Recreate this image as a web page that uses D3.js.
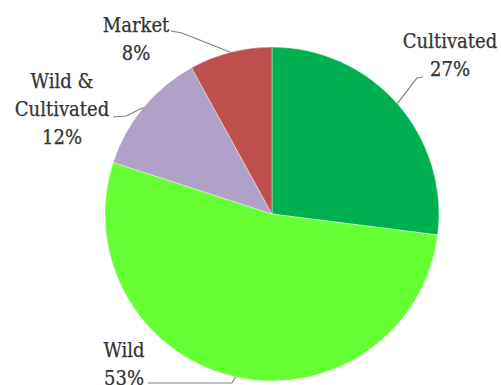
<!DOCTYPE html>
<html>
<head>
<meta charset="utf-8">
<script src="https://cdn.jsdelivr.net/npm/d3@7"></script>
<style>
  html, body { margin: 0; padding: 0; background: #fff; }
  svg { display: block; }
</style>
</head>
<body>
<svg id="chart" width="501" height="385"></svg>
<script>
// Share of sources, drawn clockwise from 12 o'clock
const categories = ["Cultivated", "Wild", "Wild & Cultivated", "Market"];
const shares = [27, 53, 12, 8];
const colors = ["#00b050", "#66ff33", "#b1a0c7", "#c0504d"];
// Label text lines for each slice
const labelLines = [
  ["Cultivated", "27%"],
  ["Wild", "53%"],
  ["Wild &", "Cultivated", "12%"],
  ["Market", "8%"]
];

// Layout
const cx = 272, cy = 214, radius = 167, lineGap = 28;
const fontStack = "'DejaVu Serif Condensed', 'DejaVu Serif', serif";
const labelLayout = [
  { x: 450, y: 48,  leader: [[423, 77], [417, 78]] },
  { x: 124, y: 357, leader: [[148, 383], [232, 383]] },
  { x: 62,  y: 88,  leader: [[113, 117], [126, 116]] },
  { x: 136, y: 32,  leader: [[171, 31], [182, 33]] }
];

const svg = d3.select("#chart");
const g = svg.append("g").attr("transform", `translate(${cx},${cy})`);

const pie = d3.pie().value(d => d.value).sort(null);
const arc = d3.arc().innerRadius(0).outerRadius(radius);

const data = categories.map((c, i) => ({ name: c, value: shares[i], color: colors[i] }));
const arcs = pie(data);

g.selectAll("path.slice")
  .data(arcs)
  .join("path")
  .attr("class", "slice")
  .attr("d", arc)
  .attr("fill", d => d.data.color)
  .attr("stroke", "#ffffff")
  .attr("stroke-width", 0.4);

// Leader lines: from the label to the rim at each slice's middle angle
const line = d3.line();
arcs.forEach((a, i) => {
  const mid = (a.startAngle + a.endAngle) / 2;
  const rim = [cx + radius * Math.sin(mid), cy - radius * Math.cos(mid)];
  const pts = labelLayout[i].leader.concat([rim]);
  svg.append("path")
    .attr("d", line(pts))
    .attr("fill", "none")
    .attr("stroke", "#7f7f7f")
    .attr("stroke-width", 1.2);
});

// Labels
labelLines.forEach((lines, i) => {
  const L = labelLayout[i];
  const t = svg.append("text")
    .attr("text-anchor", "middle")
    .style("font-family", fontStack)
    .attr("font-size", 20)
    .attr("fill", "#333333")
    .attr("stroke", "#333333")
    .attr("stroke-width", 0.25);
  lines.forEach((s, k) => {
    t.append("tspan").attr("x", L.x).attr("y", L.y + k * lineGap).text(s);
  });
});
</script>
</body>
</html>
